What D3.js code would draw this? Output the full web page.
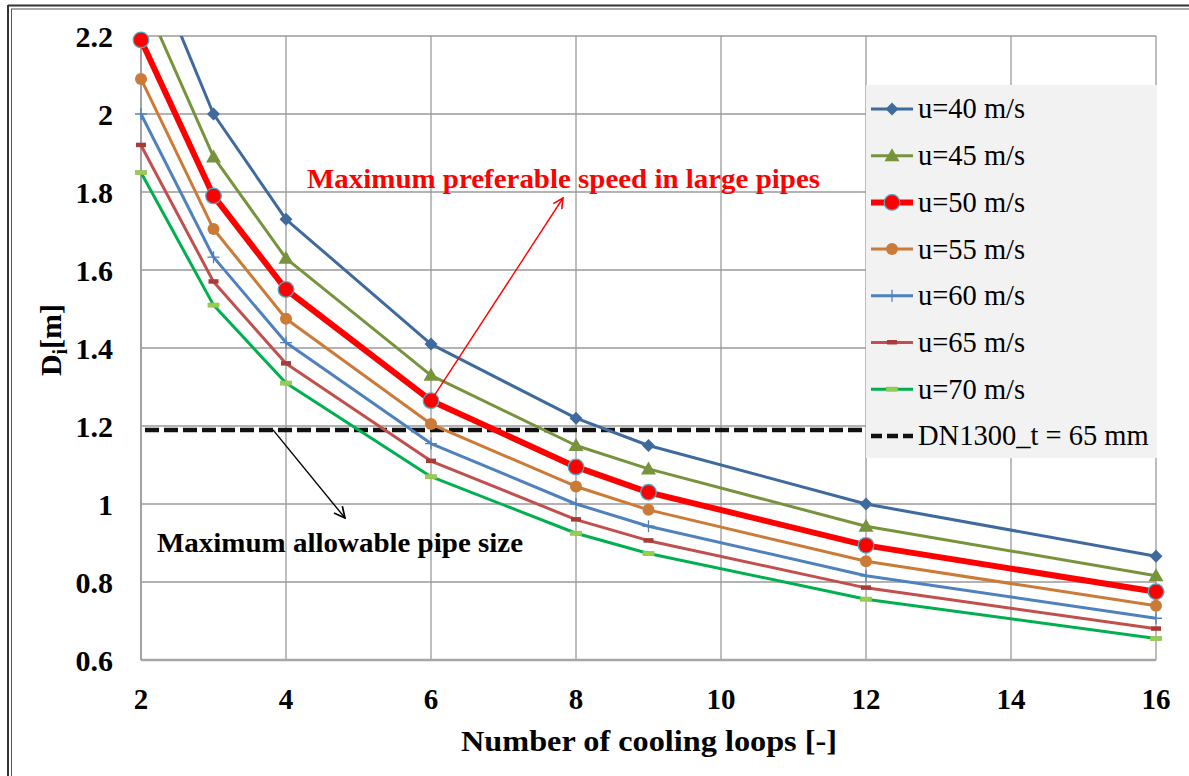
<!DOCTYPE html>
<html><head><meta charset="utf-8">
<script src="https://cdn.jsdelivr.net/npm/d3@7"></script>
<style>body{margin:0;background:#fff}svg{display:block}</style>
</head><body>
<svg id="c" width="1189" height="776"></svg>
<script>
const loops = [2, 3, 4, 6, 8, 9, 12, 16];
const u40 = [2.45, 2.00, 1.73, 1.41, 1.22, 1.15, 1.00, 0.866];
const u45 = [2.31, 1.89, 1.63, 1.33, 1.15, 1.09, 0.943, 0.816];
const u50 = [2.19, 1.79, 1.55, 1.265, 1.095, 1.03, 0.894, 0.775];
const u55 = [2.09, 1.705, 1.475, 1.205, 1.045, 0.985, 0.853, 0.739];
const u60 = [2.00, 1.633, 1.414, 1.155, 1.00, 0.943, 0.816, 0.707];
const u65 = [1.92, 1.57, 1.36, 1.11, 0.96, 0.906, 0.785, 0.68];
const u70 = [1.85, 1.51, 1.31, 1.07, 0.925, 0.873, 0.756, 0.655];
const dnLimit = 1.19;
const xTicks = [2, 4, 6, 8, 10, 12, 14, 16];
const yTicks = [0.6, 0.8, 1, 1.2, 1.4, 1.6, 1.8, 2, 2.2];
const yTickLabels = ["0.6", "0.8", "1", "1.2", "1.4", "1.6", "1.8", "2", "2.2"];
const seriesNames = ["u=40 m/s", "u=45 m/s", "u=50 m/s", "u=55 m/s", "u=60 m/s", "u=65 m/s", "u=70 m/s"];
const limitName = "DN1300_t = 65 mm";
const noteRed = "Maximum preferable speed in large pipes";
const noteBlack = "Maximum allowable pipe size";
const xTitle = "Number of cooling loops [-]";

const styles = [
  {color:"#3f6a9e", w:3, m:"diamond", mf:"#3f6a9e", ms:"none"},
  {color:"#77933c", w:3, m:"triangle", mf:"#77933c", ms:"none"},
  {color:"#ff0000", w:6, m:"bigcircle", mf:"#ff0000", ms:"#4bacc6"},
  {color:"#cc7a38", w:3, m:"circle", mf:"#cc7a38", ms:"none"},
  {color:"#4f81bd", w:3, m:"plus", mf:"#4f81bd", ms:"#4f81bd"},
  {color:"#c0504d", w:3, m:"dash", mf:"#a83a38", ms:"none"},
  {color:"#00b050", w:3, m:"dash2", mf:"#92d050", ms:"#9bbb59"}
];
const data = [u40, u45, u50, u55, u60, u65, u70];

const svg = d3.select("#c");
const FONT = "'Liberation Serif','Times New Roman',serif";
const x = d3.scaleLinear().domain([2, 16]).range([141, 1156]);
const y = d3.scaleLinear().domain([0.6, 2.2]).range([660, 36]);

// outer frame
svg.append("line").attr("x1",8).attr("x2",1189).attr("y1",5.5).attr("y2",5.5).attr("stroke","#333").attr("stroke-width",2);
svg.append("line").attr("x1",11).attr("x2",1189).attr("y1",9).attr("y2",9).attr("stroke","#555").attr("stroke-width",1);
svg.append("line").attr("x1",8).attr("x2",8).attr("y1",5).attr("y2",776).attr("stroke","#333").attr("stroke-width",2);
svg.append("line").attr("x1",11.5).attr("x2",11.5).attr("y1",9).attr("y2",776).attr("stroke","#555").attr("stroke-width",1);

// grid
const grid = svg.append("g");
grid.selectAll(".gx").data(xTicks).join("line")
  .attr("x1",d=>x(d)).attr("x2",d=>x(d)).attr("y1",y(2.2)).attr("y2",y(0.6))
  .attr("stroke","#9a9a9a").attr("stroke-width",1.3);
grid.selectAll(".gy").data(yTicks).join("line")
  .attr("x1",x(2)).attr("x2",x(16)).attr("y1",d=>y(d)).attr("y2",d=>y(d))
  .attr("stroke","#9a9a9a").attr("stroke-width",1.3);
svg.append("line").attr("x1",x(2)).attr("x2",x(16)).attr("y1",y(0.6)).attr("y2",y(0.6)).attr("stroke","#a6a6a6").attr("stroke-width",2.5);
svg.append("line").attr("x1",x(2)).attr("x2",x(2)).attr("y1",y(2.2)).attr("y2",y(0.6)).attr("stroke","#9a9a9a").attr("stroke-width",1.5);

// tick labels
svg.selectAll(".yt").data(yTicks).join("text")
  .attr("x",113).attr("y",d=>y(d)).attr("dy","0.35em").attr("text-anchor","end")
  .attr("font-family",FONT).attr("font-weight","bold").attr("font-size",30)
  .text((d,i)=>yTickLabels[i]);
svg.selectAll(".xt").data(xTicks).join("text")
  .attr("x",d=>x(d)).attr("y",709).attr("text-anchor","middle")
  .attr("font-family",FONT).attr("font-weight","bold").attr("font-size",29)
  .text(d=>d);

// axis titles
svg.append("text").attr("x",649).attr("y",751).attr("text-anchor","middle")
  .attr("font-family",FONT).attr("font-weight","bold").attr("font-size",29)
  .attr("textLength",376).attr("lengthAdjust","spacingAndGlyphs").text(xTitle);
const yt = svg.append("text").attr("transform","translate(61,340) rotate(-90)").attr("text-anchor","middle")
  .attr("font-family",FONT).attr("font-weight","bold").attr("font-size",30);
yt.append("tspan").text("D");
yt.append("tspan").attr("font-size",20).attr("dy",6).text("i");
yt.append("tspan").attr("dy",-6).text("[m]");

// clip
svg.append("clipPath").attr("id","pc").append("rect")
  .attr("x",x(2)-10).attr("y",y(2.2)).attr("width",x(16)-x(2)+20).attr("height",y(0.6)-y(2.2)+10);

// dashed limit line
svg.append("line").attr("x1",x(2)+4).attr("x2",x(16)).attr("y1",y(dnLimit)).attr("y2",y(dnLimit))
  .attr("stroke","#111").attr("stroke-width",4.5).attr("stroke-dasharray","14,5");

const line = d3.line().x((d,i)=>x(loops[i])).y(d=>y(d));
const lg = svg.append("g").attr("clip-path","url(#pc)");

function marker(g, type, cx, cy, st){
  if(type==="diamond"){
    g.append("path").attr("d",`M${cx},${cy-6.5}L${cx+6.5},${cy}L${cx},${cy+6.5}L${cx-6.5},${cy}Z`).attr("fill",st.mf);
  } else if(type==="triangle"){
    g.append("path").attr("d",`M${cx},${cy-7.5}L${cx+7.5},${cy+5.5}L${cx-7.5},${cy+5.5}Z`).attr("fill",st.mf);
  } else if(type==="bigcircle"){
    g.append("circle").attr("cx",cx).attr("cy",cy).attr("r",7.8).attr("fill",st.mf).attr("stroke",st.ms).attr("stroke-width",1.3);
  } else if(type==="circle"){
    g.append("circle").attr("cx",cx).attr("cy",cy).attr("r",6).attr("fill",st.mf);
  } else if(type==="plus"){
    g.append("path").attr("d",`M${cx-6},${cy}H${cx+6}M${cx},${cy-6}V${cy+6}`).attr("stroke",st.ms).attr("stroke-width",1.3).attr("fill","none");
  } else if(type==="dash"){
    g.append("rect").attr("x",cx-5).attr("y",cy-2.5).attr("width",10).attr("height",4.5).attr("fill",st.mf);
  } else if(type==="dash2"){
    g.append("rect").attr("x",cx-5.5).attr("y",cy-2).attr("width",11).attr("height",4).attr("fill",st.mf).attr("stroke",st.ms).attr("stroke-width",0.8);
  }
}

const order = [6,5,4,3,1,0,2];
order.forEach(k=>{
  const st = styles[k];
  lg.append("path").datum(data[k]).attr("d",line).attr("fill","none")
    .attr("stroke",st.color).attr("stroke-width",st.w).attr("stroke-linejoin","round");
  const mg = svg.append("g");
  data[k].forEach((v,i)=>{ if(v<=2.2) marker(mg, st.m, x(loops[i]), y(v), st); });
});

// annotations
svg.append("defs").html(`
<marker id="ahR" viewBox="0 0 12 12" refX="11" refY="6" markerWidth="12" markerHeight="12" markerUnits="userSpaceOnUse" orient="auto"><path d="M1,1L11,6L1,11" fill="none" stroke="#ff0000" stroke-width="1.6"/></marker>
<marker id="ahK" viewBox="0 0 12 12" refX="11" refY="6" markerWidth="13" markerHeight="13" markerUnits="userSpaceOnUse" orient="auto"><path d="M1,1L11,6L1,11" fill="none" stroke="#000" stroke-width="1.6"/></marker>`);
svg.append("line").attr("x1",x(6)).attr("y1",y(u50[3])).attr("x2",563).attr("y2",198)
  .attr("stroke","#ff0000").attr("stroke-width",1.4).attr("marker-end","url(#ahR)");
svg.append("line").attr("x1",273).attr("y1",y(dnLimit)).attr("x2",345).attr("y2",518)
  .attr("stroke","#000").attr("stroke-width",1.4).attr("marker-end","url(#ahK)");
svg.append("text").attr("x",307).attr("y",188).attr("font-family",FONT).attr("font-weight","bold")
  .attr("font-size",27).attr("fill","#ff0000").attr("textLength",513).attr("lengthAdjust","spacingAndGlyphs").text(noteRed);
svg.append("text").attr("x",157).attr("y",552).attr("font-family",FONT).attr("font-weight","bold")
  .attr("font-size",27).attr("fill","#000").attr("textLength",366).attr("lengthAdjust","spacingAndGlyphs").text(noteBlack);

// legend
const leg = svg.append("g");
leg.append("rect").attr("x",866).attr("y",85).attr("width",291).attr("height",373).attr("fill","#f2f2f2");
const rowY = i => 109 + i*46.7;
seriesNames.forEach((nm,i)=>{
  const st = styles[i];
  const cy = rowY(i);
  leg.append("line").attr("x1",871).attr("x2",913).attr("y1",cy).attr("y2",cy).attr("stroke",st.color).attr("stroke-width",st.w);
  marker(leg, st.m, 892, cy, st);
  leg.append("text").attr("x",918).attr("y",cy).attr("dy","0.33em").attr("font-family",FONT).attr("font-size",28.5).attr("fill","#000").text(nm);
});
const ly = rowY(7);
leg.append("line").attr("x1",871).attr("x2",913).attr("y1",ly).attr("y2",ly).attr("stroke","#111").attr("stroke-width",4.5).attr("stroke-dasharray","11,5");
leg.append("text").attr("x",918).attr("y",ly).attr("dy","0.33em").attr("font-family",FONT).attr("font-size",28.5).attr("fill","#000").text(limitName);
</script>
</body></html>
